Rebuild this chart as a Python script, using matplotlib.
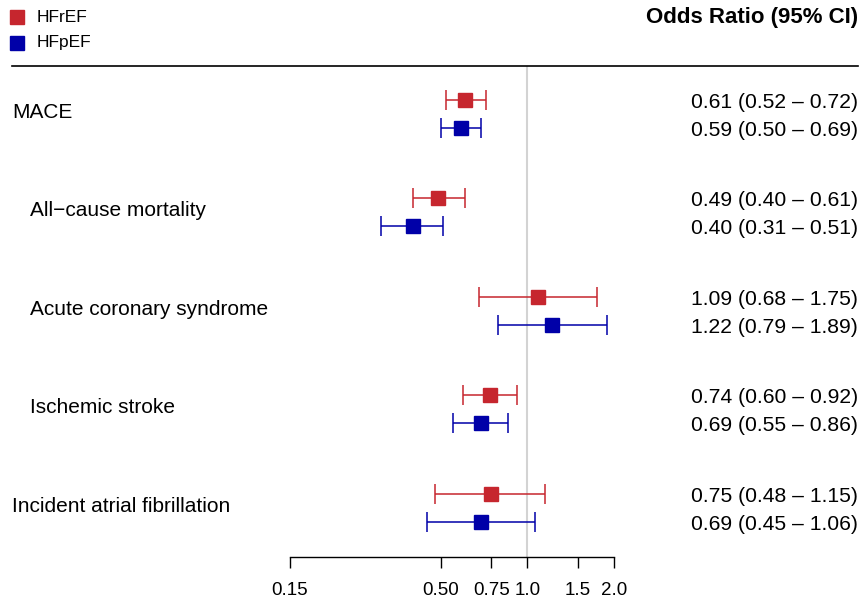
import numpy as np
import matplotlib.pyplot as plt
from matplotlib.transforms import blended_transform_factory

plt.rcParams['font.family'] = ['Liberation Sans', 'DejaVu Sans']

# data
outcomes = ['MACE', 'All\u2212cause mortality', 'Acute coronary syndrome',
            'Ischemic stroke', 'Incident atrial fibrillation']
indent = [False, True, True, True, False]
groups = ['HFrEF', 'HFpEF']

or_hfref = [0.61, 0.49, 1.09, 0.74, 0.75]
lo_hfref = [0.52, 0.40, 0.68, 0.60, 0.48]
hi_hfref = [0.72, 0.61, 1.75, 0.92, 1.15]

or_hfpef = [0.59, 0.40, 1.22, 0.69, 0.69]
lo_hfpef = [0.50, 0.31, 0.79, 0.55, 0.45]
hi_hfpef = [0.69, 0.51, 1.89, 0.86, 1.06]

ticks = [0.15, 0.50, 0.75, 1.0, 1.5, 2.0]
tick_labels = ['0.15', '0.50', '0.75', '1.0', '1.5', '2.0']

red = '#C6262E'
blue = '#0000A8'

W, H = 862, 605
fig = plt.figure(figsize=(W / 100, H / 100), dpi=100)
# axes spans the x-scale region (0.15..2.0) and from the header line to the bottom axis
ax = fig.add_axes([290 / W, (H - 557) / H, 324 / W, (557 - 66) / H])
ax.set_xscale('log')
ax.set_xlim(0.15, 2.0)
ax.set_ylim(4.64, -0.345)

gap = 0.284
y = np.arange(len(outcomes))

ax.axvline(1.0, color='#d3d3d3', lw=1.5, zorder=0)

for vals, lo, hi, col, off in [(or_hfref, lo_hfref, hi_hfref, red, 0),
                               (or_hfpef, lo_hfpef, hi_hfpef, blue, gap)]:
    vals = np.array(vals)
    err = [vals - np.array(lo), np.array(hi) - vals]
    ax.errorbar(vals, y + off, xerr=err, fmt='s', color=col, ms=10,
                ecolor=col, elinewidth=1.1, capsize=7.5, capthick=1.1,
                clip_on=False, zorder=3)

for s in ['top', 'right', 'left']:
    ax.spines[s].set_visible(False)
ax.spines['bottom'].set_linewidth(1.0)
ax.set_yticks([])
ax.set_xticks(ticks)
ax.set_xticklabels(tick_labels, fontsize=13.5)
ax.minorticks_off()
ax.tick_params(axis='x', length=8, width=1.0, pad=10)

# row labels on the left and OR text on the right
tl = blended_transform_factory(fig.transFigure, ax.transData)
dy = 0.025
for i, name in enumerate(outcomes):
    x0 = 30 / W if indent[i] else 12 / W
    ax.text(x0, y[i] + 0.125, name, transform=tl, ha='left', va='center',
            fontsize=15)
    ax.text(858 / W, y[i] + dy, f'{or_hfref[i]:.2f} ({lo_hfref[i]:.2f} \u2013 {hi_hfref[i]:.2f})',
            transform=tl, ha='right', va='center', fontsize=15.2)
    ax.text(858 / W, y[i] + gap + dy, f'{or_hfpef[i]:.2f} ({lo_hfpef[i]:.2f} \u2013 {hi_hfpef[i]:.2f})',
            transform=tl, ha='right', va='center', fontsize=15.2)

# header
fig.text(858 / W, 1 - 18 / H, 'Odds Ratio (95% CI)', ha='right', va='center',
         fontsize=16, fontweight='bold')
fig.add_artist(plt.Line2D([12 / W, 858 / W], [1 - 66 / H, 1 - 66 / H],
                          color='black', lw=1.2))

# legend
for k, (g, col) in enumerate(zip(groups, [red, blue])):
    yy = 1 - (17 + 26 * k) / H
    fig.add_artist(plt.Line2D([17 / W], [yy], marker='s', ms=10, color=col, ls=''))
    fig.text(37 / W, yy, g, ha='left', va='center', fontsize=12.5)

fig.savefig('out.png', dpi=100)
